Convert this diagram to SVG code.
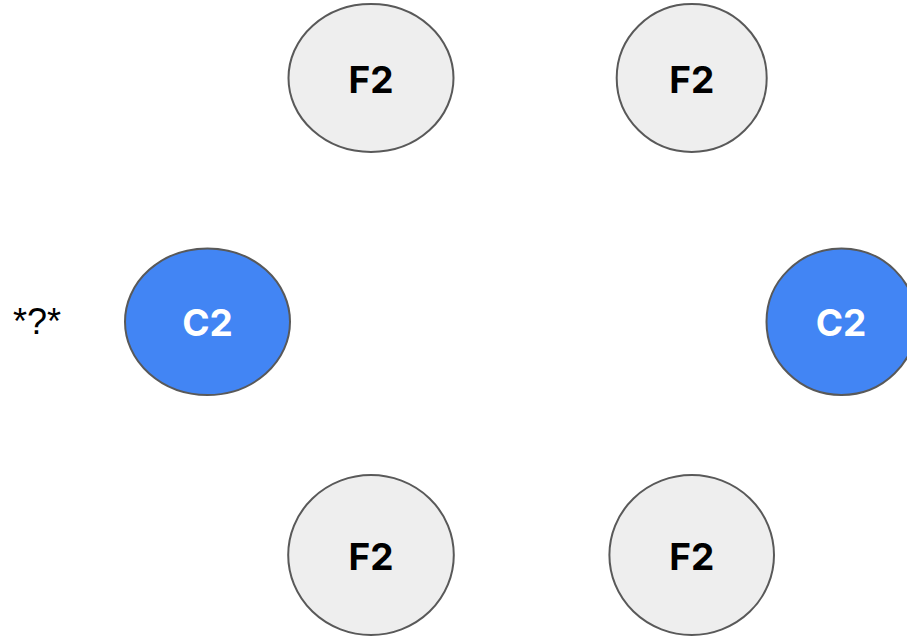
<svg xmlns="http://www.w3.org/2000/svg" width="907" height="638" viewBox="0 0 907 638">
<style>
.f{fill:#eeeeee;stroke:#595959;stroke-width:2}
.c{fill:#4285f4;stroke:#595959;stroke-width:2}
.t{font-family:Inter,"Liberation Sans",sans-serif;font-weight:700;font-size:37px;text-anchor:middle}
.tf{fill:#000000}
.tc{fill:#ffffff}
.q{font-family:"Liberation Sans",Arial,sans-serif;font-size:36px;fill:#000000}
</style>
<rect width="907" height="638" fill="#ffffff"/>
<g id="connectors"></g>
<g id="f2-top-left"><ellipse class="f" cx="371" cy="78" rx="82.5" ry="74"/><text class="t tf" x="371" y="92.5">F2</text></g>
<g id="f2-top-right"><ellipse class="f" cx="691.7" cy="78" rx="75" ry="74"/><text class="t tf" x="691.7" y="92.5">F2</text></g>
<g id="c2-left"><ellipse class="c" cx="207.5" cy="321.7" rx="82.5" ry="73.3"/><text class="t tc" x="207.5" y="336">C2</text></g>
<g id="c2-right"><ellipse class="c" cx="841.5" cy="321.7" rx="75" ry="73.3"/><text class="t tc" x="841" y="336">C2</text></g>
<g id="f2-bottom-left"><ellipse class="f" cx="371" cy="555" rx="82.8" ry="80"/><text class="t tf" x="371" y="569.5">F2</text></g>
<g id="f2-bottom-right"><ellipse class="f" cx="691.7" cy="555" rx="82.3" ry="80"/><text class="t tf" x="691.7" y="569.5">F2</text></g>
<text class="q" x="13" y="334">*?*</text>
</svg>
